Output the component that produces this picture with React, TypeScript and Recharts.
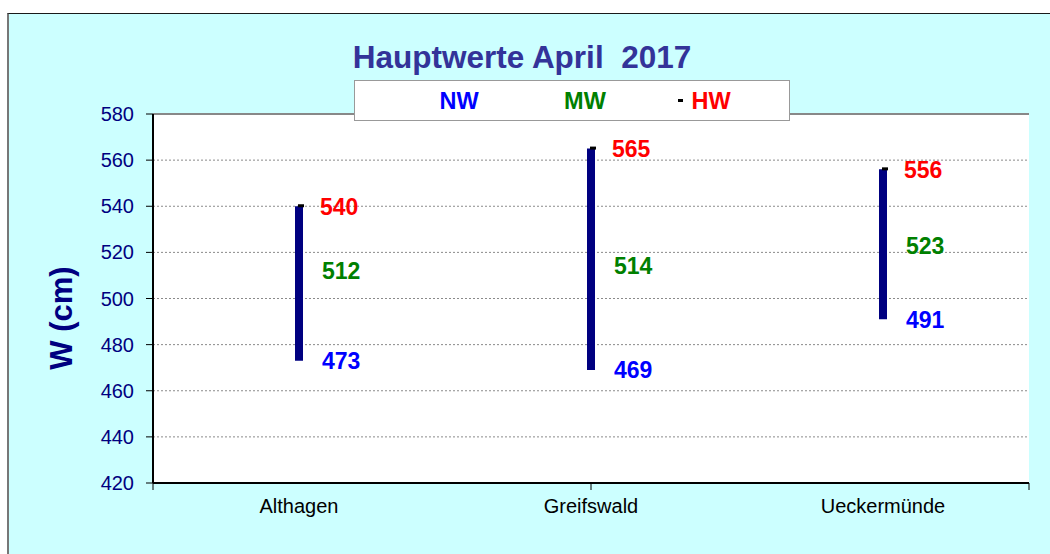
import React from 'react';
import {
  ComposedChart,
  Bar,
  Line,
  XAxis,
  YAxis,
  CartesianGrid,
  ReferenceLine,
} from 'recharts';

const stations = ['Althagen', 'Greifswald', 'Ueckermünde'];
const nwValues = [473, 469, 491];
const mwValues = [512, 514, 523];
const hwValues = [540, 565, 556];
const yTicks = [420, 440, 460, 480, 500, 520, 540, 560, 580];
const bandTicks = [0, 1, 2, 3];

const data = stations.map((name, i) => ({
  name,
  nw: nwValues[i],
  mw: mwValues[i],
  hw: hwValues[i],
  range: [nwValues[i], hwValues[i]],
}));

const FONT = '"Liberation Sans", Arial, sans-serif';

const valueLabel = (color: string, dx: number) => (props: any) => {
  const { x, y, value } = props;
  return (
    <text
      x={x + dx}
      y={y}
      dy="0.36em"
      fill={color}
      fontSize={23}
      fontWeight="bold"
      fontFamily={FONT}
    >
      {value}
    </text>
  );
};

const hwDot = (props: any) => {
  const { cx, cy, index } = props;
  return <rect key={'hw' + index} x={cx - 1} y={cy - 2} width={6} height={3} fill="#000" />;
};

const App: React.FC = () => {
  return (
    <div style={{ position: 'absolute', left: 0, top: 0, width: 1050, height: 554, overflow: 'hidden', background: '#fff' }}>
      <div
        style={{
          position: 'absolute',
          left: 7,
          top: 13,
          width: 1043,
          height: 541,
          background: '#CCFFFF',
          borderTop: '1px solid #1a1a1a',
          borderLeft: '2px solid #777',
          boxSizing: 'border-box',
        }}
      />
      <div style={{ position: 'absolute', left: 0, top: 0 }}>
        <ComposedChart
          width={1050}
          height={554}
          data={data}
          margin={{ top: 114, right: 21, bottom: 33, left: 93 }}
        >
          <CartesianGrid
            xAxisId="cat"
            vertical={false}
            stroke="#8a8a8a"
            strokeDasharray="2 2"
            fill="#fff"
            fillOpacity={1}
          />
          <XAxis
            xAxisId="band"
            type="number"
            domain={[0, 3]}
            ticks={bandTicks}
            height={8}
            tickSize={7}
            tickFormatter={() => ''}
            axisLine={{ stroke: '#000', strokeWidth: 2 }}
            tickLine={{ stroke: '#000' }}
          />
          <XAxis
            xAxisId="cat"
            dataKey="name"
            height={30}
            axisLine={false}
            tickLine={false}
            tick={{ fill: '#000', fontSize: 20, fontFamily: FONT }}
          />
          <YAxis
            type="number"
            domain={[420, 580]}
            ticks={yTicks}
            width={60}
            tickSize={7}
            tickMargin={12}
            axisLine={{ stroke: '#000', strokeWidth: 2 }}
            tickLine={{ stroke: '#000' }}
            tick={{ fill: '#000080', fontSize: 20, fontFamily: FONT }}
          />
          <ReferenceLine y={580} xAxisId="cat" stroke="#888" strokeWidth={2} />
          <ReferenceLine x={3} xAxisId="band" stroke="#888" strokeWidth={2} />
          <Bar
            xAxisId="cat"
            dataKey="range"
            barSize={8}
            fill="#000080"
            isAnimationActive={false}
          />
          <Line
            xAxisId="cat"
            dataKey="hw"
            stroke="none"
            dot={hwDot}
            activeDot={false}
            label={valueLabel('#FF0000', 21)}
            isAnimationActive={false}
          />
          <Line
            xAxisId="cat"
            dataKey="mw"
            stroke="none"
            dot={false}
            activeDot={false}
            label={valueLabel('#008000', 23)}
            isAnimationActive={false}
          />
          <Line
            xAxisId="cat"
            dataKey="nw"
            stroke="none"
            dot={false}
            activeDot={false}
            label={valueLabel('#0000FF', 23)}
            isAnimationActive={false}
          />
        </ComposedChart>
      </div>
      <svg
        width={1050}
        height={554}
        style={{ position: 'absolute', left: 0, top: 0, pointerEvents: 'none' }}
        fontFamily={FONT}
      >
        <text x={522} y={68} textAnchor="middle" fontSize={31.5} fontWeight="bold" fill="#333399" style={{ whiteSpace: 'pre' }}>
          Hauptwerte April  2017
        </text>
        <rect x={354.5} y={80.5} width={435} height={40} fill="#fff" stroke="#999" />
        <text x={459} y={109} textAnchor="middle" fontSize={23.5} fontWeight="bold" fill="#0000FF">NW</text>
        <text x={585} y={109} textAnchor="middle" fontSize={23.5} fontWeight="bold" fill="#008000">MW</text>
        <rect x={678} y={99} width={5} height={3} fill="#000" />
        <text x={711} y={109} textAnchor="middle" fontSize={23.5} fontWeight="bold" fill="#FF0000">HW</text>
        <text
          transform="translate(72,318) rotate(-90)"
          textAnchor="middle"
          fontSize={31}
          fontWeight="bold"
          fill="#000080"
        >
          W (cm)
        </text>
      </svg>
    </div>
  );
};

export default App;
